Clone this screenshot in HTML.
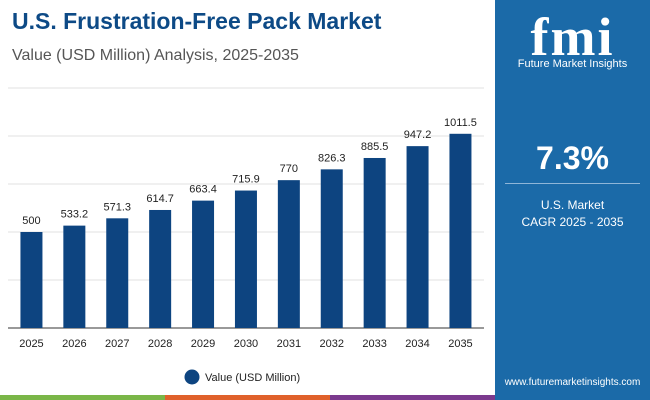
<!DOCTYPE html>
<html><head><meta charset="utf-8"><style>
body{margin:0;width:650px;height:400px;overflow:hidden;background:#fff;font-family:"Liberation Sans",sans-serif;position:relative}
#t{position:absolute;left:12px;top:8px;font-size:23px;font-weight:bold;color:#0d4a86}
#s{position:absolute;left:12px;top:47px;font-size:16px;color:#555}
#panel{position:absolute;left:495px;top:0;width:155px;height:400px;background:#1b6aa8}
.w{position:absolute;color:#fff;text-align:center;width:155px;left:0}
</style></head><body>
<div id="t">U.S. Frustration-Free Pack Market</div>
<div id="s">Value (USD Million) Analysis, 2025-2035</div>
<svg id="c" width="495" height="400" style="position:absolute;left:0;top:0"></svg>
<div id="panel">
<div class="w" style="top:6px;font-size:54px;font-weight:bold;font-family:'Liberation Serif',serif;letter-spacing:2px">fmi</div>
<div class="w" style="top:58px;font-size:11px">Future Market Insights</div>
<div class="w" style="top:140px;font-size:32px;font-weight:bold">7.3%</div>
<div style="position:absolute;left:10px;top:183px;width:135px;border-top:1px solid #8fb6d8"></div>
<div class="w" style="top:197px;font-size:12px;line-height:17px">U.S. Market<br>CAGR 2025 - 2035</div>
<div class="w" style="top:377px;font-size:10px">www.futuremarketinsights.com</div>
</div>
<div style="position:absolute;left:0;top:395px;width:165px;height:5px;background:#7ab648"></div>
<div style="position:absolute;left:165px;top:395px;width:165px;height:5px;background:#e0612b"></div>
<div style="position:absolute;left:330px;top:395px;width:165px;height:5px;background:#7b3a8e"></div>
<script>
const categories=["2025","2026","2027","2028","2029","2030","2031","2032","2033","2034","2035"];
const values=[500,533.2,571.3,614.7,663.4,715.9,770,826.3,885.5,947.2,1011.5];
const labels=["500","533.2","571.3","614.7","663.4","715.9","770","826.3","885.5","947.2","1011.5"];
const ticks=[0,250,500,750,1000,1250];
const NS="http://www.w3.org/2000/svg",svg=document.getElementById('c');
const y0=328,k=0.192,x0=10,step=42.9,bw=22;
const y=v=>y0-v*k, xc=i=>x0+step*(i+0.5);
function mk(t,a){const e=document.createElementNS(NS,t);for(const n in a)e.setAttribute(n,a[n]);svg.appendChild(e);return e;}
ticks.forEach(v=>{if(v>0){const l=mk('line',{x1:8,x2:484,y1:y(v),y2:y(v),stroke:'#e2e2e2'});

}});
const ax=mk('line',{x1:8,x2:484,y1:y0,y2:y0,stroke:'#333'});


values.forEach((v,i)=>{
const r=mk('rect',{x:xc(i)-bw/2,y:y(v),width:bw,height:v*k,fill:'#0d4480'});


const t=mk('text',{x:xc(i),y:y(v)-8,'text-anchor':'middle','font-size':11,fill:'#222'});t.textContent=labels[i];


const c=mk('text',{x:xc(i),y:347,'text-anchor':'middle','font-size':11,fill:'#222'});c.textContent=categories[i];


});
const lg=mk('circle',{cx:192,cy:377,r:7.5,fill:'#0d4480'});


const lt=mk('text',{x:205,y:381,'font-size':11,fill:'#222'});lt.textContent='Value (USD Million)';


</script>
</body></html>
